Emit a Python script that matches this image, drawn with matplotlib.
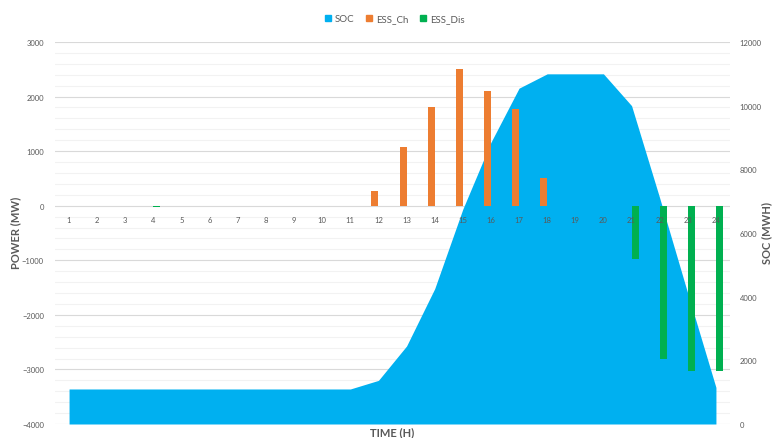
#!/usr/bin/env python3
"""
ESS dispatch over 24 hours: charge/discharge power (bars) and state of charge (area)
"""

import matplotlib
matplotlib.use('Agg')
import matplotlib.pyplot as plt
from matplotlib.patches import Patch
from matplotlib.ticker import MultipleLocator
import numpy as np

hours = list(range(1, 25))
ess_ch = [0, 0, 0, 0, 0, 0, 0, 0, 0, 0, 0, 270,
          1080, 1800, 2500, 2110, 1780, 500, 0, 0, 0, 0, 0, 0]
ess_dis = [0, 0, 0, -20, 0, 0, 0, 0, 0, 0, 0, 0,
           0, 0, 0, 0, 0, 0, 0, 0, -980, -2800, -3020, -3020]
soc = [1100, 1100, 1100, 1100, 1100, 1100, 1100, 1100, 1100, 1100, 1100, 1370,
       2450, 4250, 6750, 8850, 10550, 11000, 11000, 11000, 10000, 7100, 4100, 1150]

C_SOC = '#00B0F0'
C_CH = '#ED7D31'
C_DIS = '#00B050'
C_TXT = '#595959'

plt.rcParams['font.family'] = ['Lato', 'DejaVu Sans']


def plot_dispatch(save_file='out.png'):
    fig = plt.figure(figsize=(7.73, 4.39), dpi=100)
    ax = fig.add_axes([55 / 773, 1 - 425 / 439, 675 / 773, 382 / 439])
    ax2 = ax.twinx()   # SOC area
    ax3 = ax.twinx()   # power bars on top

    x = np.array(hours)

    # grid on the power axis
    ax.set_xlim(0.5, 24.5)
    ax.set_ylim(-4000, 3000)
    ax.yaxis.set_major_locator(MultipleLocator(1000))
    ax.yaxis.set_minor_locator(MultipleLocator(200))
    ax.grid(True, which='major', axis='y', color='#d9d9d9', linewidth=0.8)
    ax.grid(True, which='minor', axis='y', color='#f2f2f2', linewidth=0.8)
    ax.set_axisbelow(True)
    ax.set_xticks([])
    ax.tick_params(axis='y', which='both', length=0, labelsize=5.5,
                   labelcolor=C_TXT, pad=8)

    # SOC area
    ax2.fill_between(x, soc, 0, color=C_SOC, linewidth=0)
    ax2.set_ylim(0, 12000)
    ax2.set_yticks(np.arange(0, 12001, 2000))
    ax2.tick_params(axis='y', length=0, labelsize=5.5, labelcolor=C_TXT, pad=7)

    # charge / discharge bars
    ax3.bar(x - 0.125, ess_ch, width=0.25, color=C_CH, linewidth=0)
    ax3.bar(x + 0.125, ess_dis, width=0.25, color=C_DIS, linewidth=0)
    ax3.set_ylim(ax.get_ylim())
    ax3.set_yticks([])
    ax3.set_xlim(0.5, 24.5)

    # hour labels sit just under the zero line
    for h in hours:
        ax3.annotate(str(h), xy=(h, 0), xytext=(0, -10), textcoords='offset points',
                     ha='center', va='center', fontsize=5.5, color=C_TXT)

    for a in (ax, ax2, ax3):
        for s in a.spines.values():
            s.set_visible(False)

    # axis titles
    title_kw = dict(fontsize=8, fontweight='bold', color=C_TXT,
                    ha='center', va='center')
    fig.text(392 / 773, 1 - 433 / 439, 'TIME (H)', **title_kw)
    fig.text(16 / 773, 1 - 233 / 439, 'POWER (MW)', rotation=90, **title_kw)
    fig.text(767 / 773, 1 - 233 / 439, 'SOC (MWH)', rotation=90, **title_kw)

    handles = [Patch(color=C_SOC, label='SOC'),
               Patch(color=C_CH, label='ESS_Ch'),
               Patch(color=C_DIS, label='ESS_Dis')]
    fig.legend(handles=handles, loc='center', bbox_to_anchor=(395 / 773, 1 - 20 / 439),
               ncol=3, frameon=False, fontsize=7, handlelength=0.6,
               handleheight=0.6, handletextpad=0.4, columnspacing=1.2,
               labelcolor=C_TXT)

    fig.savefig(save_file, dpi=100)


if __name__ == '__main__':
    plot_dispatch()
